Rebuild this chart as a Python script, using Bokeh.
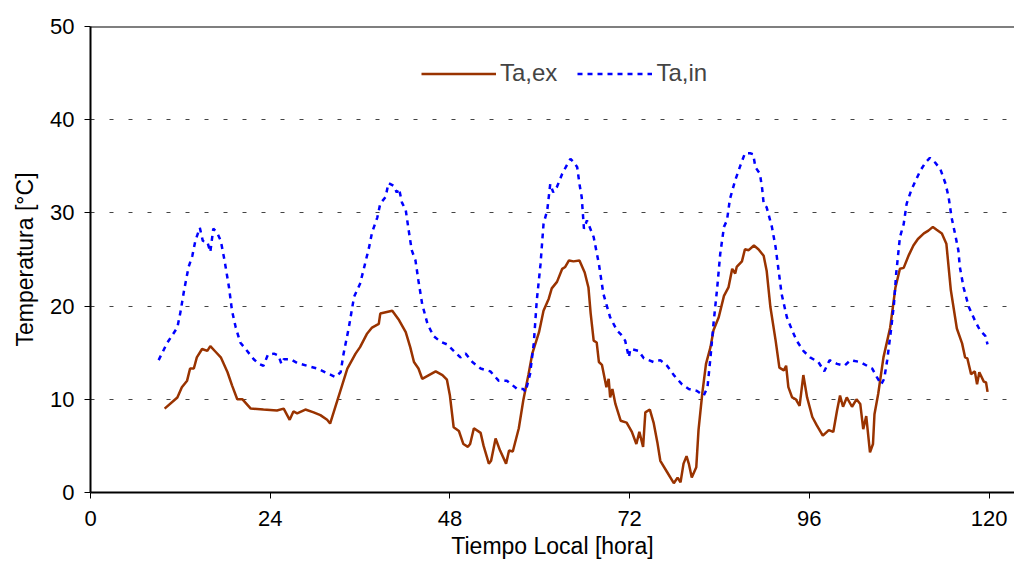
from bokeh.plotting import figure
from bokeh.models import Range1d, FixedTicker, Span, Legend, LegendItem
from bokeh.embed import file_html
from bokeh.resources import INLINE

# Ta,ex (brown, solid)
ex_hours = [9.9, 11.6, 12.2, 12.9, 13.3, 13.8, 14.2, 14.9, 15.6, 16.0, 16.7, 17.4, 18.3, 18.9, 19.6, 20.3,
            21.4, 23.1, 24.9, 25.8, 26.6, 27.1, 27.6, 28.7, 29.8, 30.7, 31.6, 32.0, 32.7, 33.6, 34.3, 35.4,
            36.0, 36.9, 37.6, 38.5, 38.7, 40.3, 41.2, 42.1, 42.7, 43.2, 43.8, 44.3, 45.2, 46.1, 47.0, 47.6,
            48.0, 48.5, 49.2, 49.8, 50.4, 50.7, 51.2, 52.1, 52.5, 53.2, 53.5, 54.1, 54.7, 55.5, 55.9, 56.4,
            57.2, 57.8, 58.5, 59.0, 59.9, 60.5, 61.2, 61.6, 62.3, 63.0, 63.4, 63.9, 64.5, 65.3, 66.0, 66.5,
            66.8, 67.2, 67.6, 67.9, 68.3, 68.9, 69.2, 69.4, 69.7, 70.1, 70.8, 71.6, 72.3, 72.9, 73.3, 73.8,
            74.1, 74.7, 75.2, 75.7, 76.1, 77.0, 77.9, 78.4, 78.8, 79.2, 79.6, 79.9, 80.3, 80.9, 81.2, 81.7,
            82.2, 82.8, 83.2, 83.9, 84.6, 85.2, 85.7, 86.1, 86.3, 87.0, 87.4, 87.9, 88.6, 89.2, 89.9, 90.3,
            90.8, 91.5, 92.0, 92.6, 92.9, 93.2, 93.7, 94.2, 94.7, 95.2, 95.7, 96.4, 97.0, 97.8, 98.6, 99.2,
            99.7, 100.1, 100.5, 101.0, 101.7, 102.3, 102.8, 103.2, 103.6, 104.1, 104.5, 104.7, 105.2, 105.9, 106.8, 107.5,
            108.1, 108.6, 109.3, 109.9, 110.5, 111.3, 111.9, 112.5, 113.0, 113.7, 114.3, 114.9, 115.7, 116.4, 116.8, 117.1,
            117.6, 118.1, 118.4, 118.7, 119.3, 119.6, 119.8]
ex_temp = [9.0, 10.2, 11.3, 12.0, 13.3, 13.3, 14.5, 15.4, 15.2, 15.7, 15.1, 14.5, 12.9, 11.5, 10.0, 10.0,
           9.0, 8.9, 8.8, 9.0, 7.8, 8.7, 8.5, 8.9, 8.6, 8.3, 7.8, 7.4, 9.2, 11.5, 13.3, 14.9,
           15.6, 17.0, 17.7, 18.1, 19.2, 19.5, 18.5, 17.2, 15.6, 14.0, 13.3, 12.2, 12.6, 13.0, 12.6, 12.1,
           10.4, 7.0, 6.6, 5.2, 4.9, 5.2, 6.9, 6.4, 5.0, 3.1, 3.4, 5.8, 4.5, 3.1, 4.5, 4.4,
           6.9, 9.9, 12.7, 14.9, 17.2, 19.5, 20.8, 21.9, 22.6, 24.0, 24.2, 24.9, 24.8, 24.9, 23.6, 22.0,
           19.2, 16.3, 16.1, 14.0, 13.7, 11.3, 12.2, 10.2, 11.1, 9.5, 7.7, 7.5, 6.5, 5.2, 6.5, 4.9,
           8.6, 8.9, 7.5, 5.4, 3.4, 2.2, 1.0, 1.6, 1.1, 3.1, 3.9, 3.1, 1.6, 2.7, 6.7, 10.6,
           13.8, 15.6, 17.4, 18.8, 21.1, 22.0, 24.0, 23.5, 24.2, 24.8, 26.1, 26.0, 26.5, 26.1, 25.4, 23.8,
           19.9, 16.3, 13.4, 13.1, 13.6, 11.3, 10.2, 10.0, 9.3, 12.6, 10.2, 8.1, 7.2, 6.1, 6.7, 6.5,
           8.8, 10.4, 9.2, 10.2, 9.2, 10.0, 9.5, 6.8, 8.2, 4.3, 5.2, 8.4, 10.6, 14.5, 17.7, 22.0,
           24.0, 24.1, 25.5, 26.5, 27.2, 27.8, 28.1, 28.5, 28.2, 27.8, 26.7, 21.7, 17.6, 16.0, 14.5, 14.4,
           12.7, 13.0, 11.6, 12.9, 11.9, 11.8, 10.8]

# Ta,in (blue, dotted)
in_hours = [9.1, 10.2, 11.6, 12.0, 12.5, 13.1, 13.6, 14.0, 14.6, 15.0, 15.6, 16.0, 16.4, 16.9, 17.4, 17.9,
            18.5, 18.9, 19.4, 20.0, 20.9, 21.8, 22.5, 23.1, 23.7, 24.5, 25.1, 25.5, 25.8, 26.7, 27.6, 28.9,
            30.3, 31.6, 32.7, 33.4, 33.8, 34.5, 35.2, 36.0, 36.5, 37.2, 37.6, 38.3, 38.7, 39.4, 39.8, 40.5,
            40.9, 41.2, 41.6, 42.1, 42.5, 42.9, 43.4, 43.8, 44.3, 45.0, 45.8, 46.7, 47.6, 48.5, 49.4, 50.1,
            51.0, 52.1, 53.4, 54.5, 55.6, 57.0, 57.8, 58.1, 58.7, 59.2, 59.6, 60.1, 60.5, 61.0, 61.4, 61.8,
            62.3, 63.0, 63.6, 64.1, 64.6, 65.0, 65.3, 65.6, 65.9, 66.3, 67.2, 67.9, 68.5, 69.4, 70.3, 70.8,
            71.4, 71.9, 72.1, 73.2, 73.9, 75.2, 76.1, 77.0, 77.9, 79.0, 79.9, 81.0, 81.9, 82.4, 82.8, 83.2,
            83.7, 84.1, 84.6, 85.0, 85.4, 86.1, 86.8, 87.4, 88.1, 88.5, 88.8, 89.4, 89.7, 89.9, 90.3, 91.0,
            91.5, 91.9, 92.3, 93.0, 93.7, 94.3, 95.2, 96.1, 97.2, 98.0, 98.7, 99.7, 100.7, 101.5, 102.1, 102.8,
            103.7, 104.4, 105.0, 105.6, 106.0, 106.4, 106.9, 107.3, 107.6, 108.1, 108.6, 109.0, 109.6, 110.1, 110.8, 111.5,
            112.1, 112.8, 113.5, 114.2, 114.6, 115.0, 115.5, 115.9, 116.1, 116.6, 117.3, 118.2, 118.8, 119.5, 119.8]
in_temp = [14.2, 16.0, 17.7, 19.3, 21.7, 24.2, 25.4, 27.0, 28.4, 27.0, 26.9, 25.8, 28.3, 27.9, 27.0, 24.9,
           22.0, 19.5, 17.7, 16.1, 15.2, 14.3, 13.8, 13.6, 14.8, 14.9, 14.7, 13.8, 14.3, 14.3, 13.9, 13.6,
           13.3, 12.8, 12.4, 12.9, 14.9, 17.7, 21.0, 22.4, 24.0, 26.3, 27.9, 29.5, 31.0, 31.7, 33.2, 32.9,
           32.2, 32.6, 31.1, 30.3, 28.1, 26.0, 24.9, 22.7, 20.2, 18.1, 16.8, 16.2, 15.9, 15.2, 14.5, 14.9,
           14.0, 13.3, 13.0, 12.0, 12.0, 11.1, 11.1, 10.8, 12.7, 16.0, 20.6, 24.5, 28.8, 30.3, 33.1, 32.2,
           32.8, 34.2, 35.1, 35.8, 35.4, 34.9, 33.1, 31.7, 28.3, 29.2, 27.4, 24.5, 21.3, 18.8, 17.4, 17.0,
           16.3, 14.5, 15.4, 15.2, 14.4, 14.0, 14.2, 13.6, 12.6, 11.6, 11.1, 10.9, 10.4, 11.3, 14.5, 18.1,
           22.0, 25.6, 28.5, 29.2, 31.5, 33.5, 35.1, 36.4, 36.4, 36.3, 34.9, 34.2, 32.6, 31.0, 30.6, 28.5,
           26.3, 23.8, 21.3, 18.8, 17.4, 16.3, 15.2, 14.5, 14.0, 13.0, 14.2, 13.8, 13.6, 14.2, 14.1, 14.0,
           13.6, 13.3, 12.4, 11.6, 12.2, 14.2, 17.4, 20.2, 23.5, 27.4, 28.8, 31.0, 32.4, 33.3, 34.5, 35.4,
           35.9, 35.4, 34.7, 33.1, 31.7, 29.5, 27.6, 26.0, 24.2, 22.0, 19.9, 18.3, 17.4, 16.8, 15.9]

x_ticks = [0, 24, 48, 72, 96, 120]
y_ticks = [0, 10, 20, 30, 40, 50]
labels = ["Ta,ex", "Ta,in"]

FONT = "Liberation Sans"

p = figure(width=1014, height=568, output_backend="svg", toolbar_location=None,
           x_range=Range1d(0, 123.4), y_range=Range1d(0, 50),
           min_border_left=90, min_border_right=0, min_border_top=26, min_border_bottom=76)
p.outline_line_color = None
p.background_fill_color = "white"
p.border_fill_color = "white"

p.xgrid.grid_line_color = None
p.ygrid.grid_line_color = "#444444"
p.ygrid.grid_line_dash = "4 15"
p.ygrid.grid_line_width = 1

for ax in (p.xaxis[0], p.yaxis[0]):
    ax.axis_line_color = "black"
    ax.axis_line_width = 2
    ax.major_tick_line_color = "black"
    ax.major_tick_line_width = 1
    ax.major_tick_out = 6
    ax.major_tick_in = 0
    ax.minor_tick_line_color = None
    ax.major_label_text_font = FONT
    ax.major_label_text_font_size = "22px"
    ax.major_label_text_color = "black"
    ax.axis_label_text_font = FONT
    ax.axis_label_text_font_size = "23px"
    ax.axis_label_text_font_style = "normal"
    ax.axis_label_text_color = "black"

p.xaxis.ticker = FixedTicker(ticks=x_ticks)
p.yaxis.ticker = FixedTicker(ticks=y_ticks)
p.xaxis.axis_label = "Tiempo Local [hora]"
p.yaxis.axis_label = "Temperatura [°C]"
p.xaxis.major_label_standoff = 12
p.xaxis.axis_label_standoff = 4
p.yaxis.major_label_standoff = 10
p.yaxis.axis_label_standoff = 9

p.add_layout(Span(location=50, dimension="width", line_color="black", line_width=2))

r_ex = p.line(ex_hours, ex_temp, line_color="#993300", line_width=2.5)
r_in = p.line(in_hours, in_temp, line_color="#0000FF", line_width=2.5, line_dash="5 5")

legend = Legend(items=[LegendItem(label=labels[0], renderers=[r_ex]),
                       LegendItem(label=labels[1], renderers=[r_in])],
                orientation="horizontal", location=(331, 405),
                border_line_color=None, background_fill_alpha=0,
                label_text_font=FONT, label_text_font_size="24px",
                glyph_width=75, glyph_height=27, label_standoff=4,
                spacing=20, padding=0, margin=0)
p.add_layout(legend)

open("out.html", "w").write(file_html(p, INLINE))
